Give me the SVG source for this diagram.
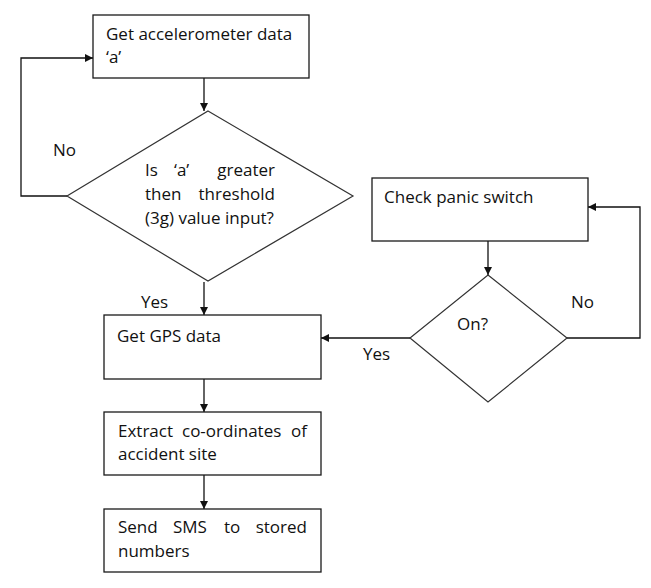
<svg xmlns="http://www.w3.org/2000/svg" width="651" height="588" viewBox="0 0 651 588">
<style>
.box{fill:#fff;stroke:#1a1a1a;stroke-width:1.3}
.dia{fill:#fff;stroke:#333;stroke-width:1.2}
.ln{fill:none;stroke:#111;stroke-width:1.3}
text{font-family:"Open Sans","Liberation Sans",sans-serif;font-size:17px;fill:#111}
.e{text-anchor:end}
</style>
<defs>
<marker id="ah" viewBox="0 0 10 10" refX="10" refY="5" markerWidth="8" markerHeight="8" markerUnits="userSpaceOnUse" orient="auto">
<path d="M0,0 L10,5 L0,10 z" fill="#111"/>
</marker>
</defs>
<rect width="651" height="588" fill="#fff"/>
<g id="connectors">
<line class="ln" x1="204" y1="78" x2="204" y2="111" marker-end="url(#ah)"/>
<polyline class="ln" points="67,196 21,196 21,58 93,58" marker-end="url(#ah)"/>
<line class="ln" x1="204" y1="282" x2="204" y2="315" marker-end="url(#ah)"/>
<line class="ln" x1="204" y1="379" x2="204" y2="412" marker-end="url(#ah)"/>
<line class="ln" x1="204" y1="475" x2="204" y2="509" marker-end="url(#ah)"/>
<line class="ln" x1="488" y1="241" x2="488" y2="275" marker-end="url(#ah)"/>
<line class="ln" x1="410" y1="338" x2="321" y2="338" marker-end="url(#ah)"/>
<polyline class="ln" points="567,338 640,338 640,207 588,207" marker-end="url(#ah)"/>
<text x="53" y="156">No</text>
<text x="141" y="308">Yes</text>
<text x="363" y="360">Yes</text>
<text x="571" y="308">No</text>
</g>
<g id="accel">
<rect class="box" x="93" y="15" width="216" height="63"/>
<text x="106" y="40">Get accelerometer data</text>
<text x="106" y="63">‘a’</text>
</g>
<g id="threshold">
<polygon class="dia" points="208,111 353,196 208,281 67,196"/>
<text x="145" y="176">Is</text>
<text x="174" y="176">‘a’</text>
<text class="e" x="275" y="176">greater</text>
<text x="145" y="200">then</text>
<text class="e" x="275" y="200">threshold</text>
<text x="145" y="224">(3g) value input?</text>
</g>
<g id="panic">
<rect class="box" x="372" y="178" width="216" height="63"/>
<text x="384" y="203">Check panic switch</text>
</g>
<g id="on">
<polygon class="dia" points="488,275 567,338 488,402 410,338"/>
<text x="457" y="330">On?</text>
</g>
<g id="gps">
<rect class="box" x="104" y="315" width="217" height="64"/>
<text x="117" y="342">Get GPS data</text>
</g>
<g id="extract">
<rect class="box" x="104" y="412" width="217" height="63"/>
<text x="118" y="437">Extract</text>
<text x="182" y="437">co-ordinates</text>
<text class="e" x="307" y="437">of</text>
<text x="118" y="460">accident site</text>
</g>
<g id="sms">
<rect class="box" x="104" y="509" width="217" height="63"/>
<text x="118" y="533">Send</text>
<text x="173" y="533">SMS</text>
<text x="224" y="533">to</text>
<text class="e" x="307" y="533">stored</text>
<text x="118" y="557">numbers</text>
</g>
</svg>
